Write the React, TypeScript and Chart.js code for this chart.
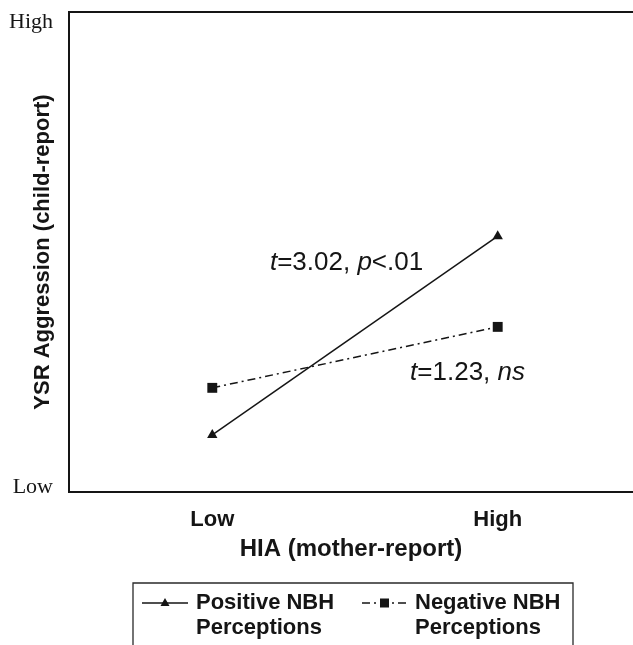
import { useEffect, useRef } from "react";
import { Chart, registerables } from "chart.js";

Chart.register(...registerables);

const X_CATEGORIES = ["Low", "High"];
const X_VALUES = [0, 1];
const Y_TICK_VALUES = [1.0, 97.9];
const Y_TICK_LABELS = ["Low", "High"];
const SERIES_NAMES = [["Positive NBH", "Perceptions"], ["Negative NBH", "Perceptions"]];
const POSITIVE = [11.9, 53.3];
const NEGATIVE = [21.7, 34.4];
const X_TITLE = "HIA (mother-report)";
const Y_TITLE = "YSR Aggression (child-report)";
// annotation text segments: [text, italic]
const ANNOT_1: [string, boolean][] = [["t", true], ["=3.02, ", false], ["p", true], ["<.01", false]];
const ANNOT_2: [string, boolean][] = [["t", true], ["=1.23, ", false], ["ns", true]];

const SANS = "'Liberation Sans', Arial, sans-serif";
const SERIF = "'Liberation Serif', 'Times New Roman', serif";
const INK = "#151515";

const framePlugin = {
  id: "frame",
  afterDraw(chart: any) {
    const { ctx, chartArea } = chart;
    const { left, top, right, bottom } = chartArea;
    ctx.save();
    ctx.strokeStyle = INK;
    ctx.lineWidth = 2;
    ctx.beginPath();
    ctx.moveTo(right + 30, top);
    ctx.lineTo(left, top);
    ctx.lineTo(left, bottom);
    ctx.lineTo(right + 30, bottom);
    ctx.stroke();

    // annotations
    const xs = chart.scales.x;
    const ys = chart.scales.y;
    const drawSegs = (segs: [string, boolean][], xv: number, yv: number) => {
      let x = xs.getPixelForValue(xv);
      const y = ys.getPixelForValue(yv);
      ctx.fillStyle = INK;
      ctx.textBaseline = "middle";
      ctx.textAlign = "left";
      for (const [t, it] of segs) {
        ctx.font = `${it ? "italic " : ""}26px ${SANS}`;
        ctx.fillText(t, x, y);
        x += ctx.measureText(t).width;
      }
    };
    drawSegs(ANNOT_1, 0.202, 47.7);
    drawSegs(ANNOT_2, 0.693, 24.8);

    // legend
    const bx0 = 133, bx1 = 573, by0 = 583, byEnd = chart.height + 2;
    ctx.strokeStyle = "#2a2a2a";
    ctx.lineWidth = 1.3;
    ctx.beginPath();
    ctx.moveTo(bx0, byEnd);
    ctx.lineTo(bx0, by0);
    ctx.lineTo(bx1, by0);
    ctx.lineTo(bx1, byEnd);
    ctx.stroke();

    const items = [
      { x0: 142, x1: 188, tx: 196, ds: chart.data.datasets[0], style: "triangle" },
      { x0: 362, x1: 407, tx: 415, ds: chart.data.datasets[1], style: "rect" },
    ];
    const ly = 603;
    items.forEach((it, i) => {
      ctx.save();
      ctx.strokeStyle = INK;
      ctx.lineWidth = 1.5;
      ctx.setLineDash(it.ds.borderDash || []);
      ctx.beginPath();
      ctx.moveTo(it.x0, ly);
      ctx.lineTo(it.x1, ly);
      ctx.stroke();
      ctx.restore();
      const cx = (it.x0 + it.x1) / 2;
      ctx.fillStyle = INK;
      ctx.beginPath();
      if (it.style === "triangle") {
        ctx.moveTo(cx, ly - 5);
        ctx.lineTo(cx + 4.5, ly + 3);
        ctx.lineTo(cx - 4.5, ly + 3);
        ctx.closePath();
      } else {
        ctx.rect(cx - 4.5, ly - 4.5, 9, 9);
      }
      ctx.fill();
      ctx.font = `bold 22px ${SANS}`;
      ctx.textBaseline = "middle";
      ctx.textAlign = "left";
      const lines = SERIES_NAMES[i];
      lines.forEach((l, k) => ctx.fillText(l, it.tx, ly + k * 25));
    });
    ctx.restore();
  },
};

export default function App() {
  const ref = useRef<HTMLCanvasElement>(null);
  useEffect(() => {
    if (!ref.current) return;
    const chart = new Chart(ref.current, {
      type: "line",
      data: {
        datasets: [
          {
            label: SERIES_NAMES[0].join(" "),
            data: X_VALUES.map((x, i) => ({ x, y: POSITIVE[i] })),
            borderColor: INK,
            backgroundColor: INK,
            borderWidth: 1.5,
            pointStyle: "triangle",
            pointRadius: 6,
            pointBorderWidth: 0,
            pointBackgroundColor: INK,
          },
          {
            label: SERIES_NAMES[1].join(" "),
            data: X_VALUES.map((x, i) => ({ x, y: NEGATIVE[i] })),
            borderColor: INK,
            backgroundColor: INK,
            borderWidth: 1.5,
            borderDash: [8, 4, 2, 4],
            pointStyle: "rect",
            pointRadius: 7,
            pointBorderWidth: 0,
            pointBackgroundColor: INK,
          },
        ],
      },
      options: {
        responsive: false,
        animation: false,
        events: [],
        layout: { autoPadding: false, padding: { top: 12, right: 0, bottom: 73, left: 0 } },
        plugins: { legend: { display: false }, tooltip: { enabled: false } },
        scales: {
          x: {
            type: "linear",
            min: -0.502,
            max: 1.474,
            afterBuildTicks: (axis: any) => {
              axis.ticks = X_VALUES.map((v) => ({ value: v }));
            },
            afterFit: (axis: any) => {
              axis.height = 80;
              axis.paddingLeft = 0;
              axis.paddingRight = 0;
            },
            ticks: {
              autoSkip: false,
              maxRotation: 0,
              padding: 15,
              color: INK,
              font: { family: SANS, size: 22, weight: "bold" },
              callback: (v: any) => {
                const idx = X_VALUES.indexOf(Number(v));
                return idx >= 0 ? X_CATEGORIES[idx] : "";
              },
            },
            grid: { display: false, drawTicks: false },
            border: { display: false },
            title: {
              display: true,
              text: X_TITLE,
              color: INK,
              font: { family: SANS, size: 24, weight: "bold" },
              padding: { top: 0, bottom: 8 },
            },
          },
          y: {
            type: "linear",
            min: 0,
            max: 100,
            afterBuildTicks: (axis: any) => {
              axis.ticks = Y_TICK_VALUES.map((v) => ({ value: v }));
            },
            afterFit: (axis: any) => {
              axis.width = 69;
            },
            ticks: {
              autoSkip: false,
              padding: 0,
              color: INK,
              font: { family: SERIF, size: 22, lineHeight: 1 },
              callback: (v: any) => {
                const idx = Y_TICK_VALUES.indexOf(Number(v));
                return idx >= 0 ? Y_TICK_LABELS[idx] : "";
              },
            },
            grid: {
              display: true,
              drawOnChartArea: false,
              drawTicks: true,
              tickLength: 16,
              color: "transparent",
              tickColor: "transparent",
            },
            border: { display: false },
            title: {
              display: true,
              text: Y_TITLE,
              color: INK,
              font: { family: SANS, size: 22, weight: "bold" },
              padding: { top: 30, bottom: 0 },
            },
          },
        },
      },
      plugins: [framePlugin],
    } as any);
    return () => chart.destroy();
  }, []);
  return (
    <div style={{ position: "absolute", left: 0, top: 0, width: 633, height: 645, background: "#fff" }}>
      <canvas ref={ref} width={633} height={645} style={{ width: 633, height: 645, display: "block" }} />
    </div>
  );
}
